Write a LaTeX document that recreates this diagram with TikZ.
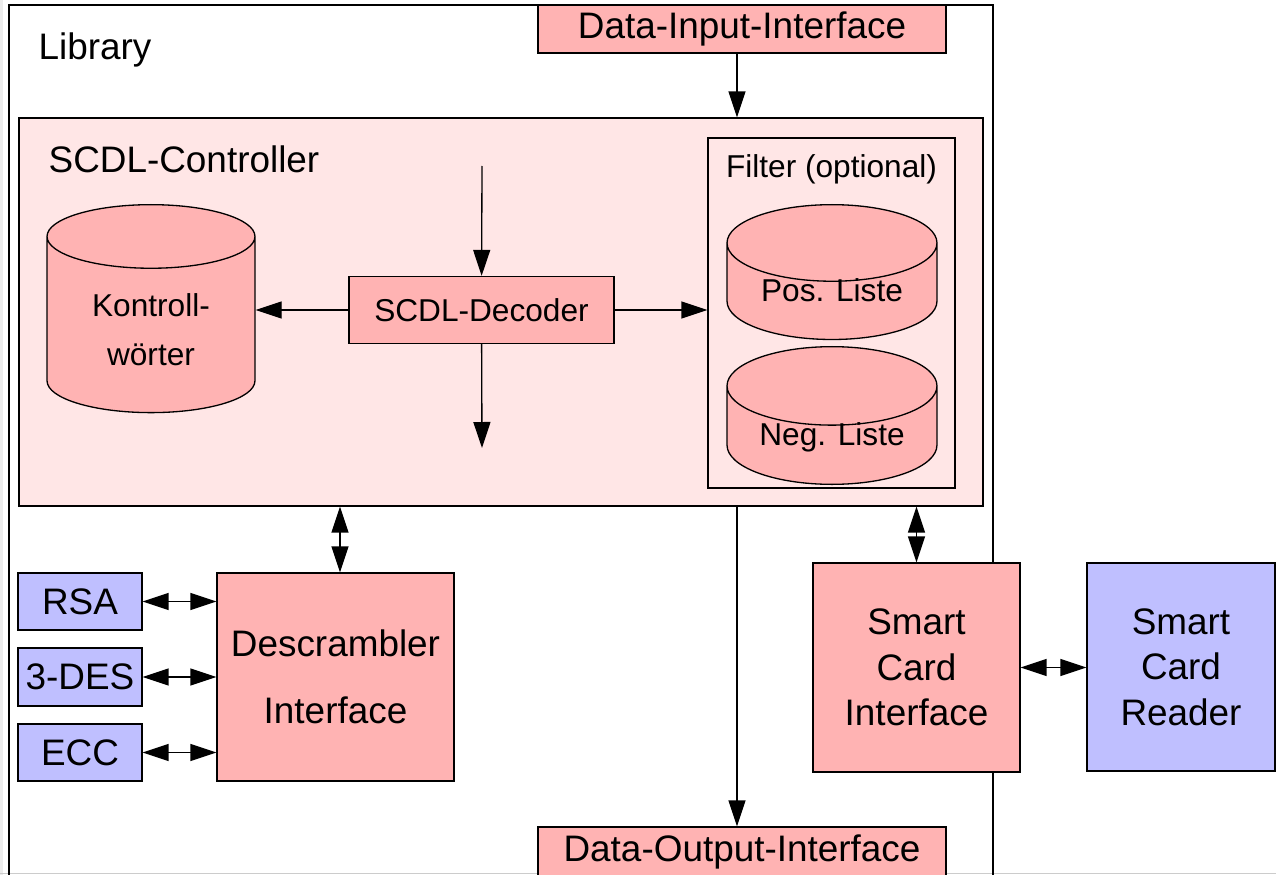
\documentclass[tikz,border=0pt]{standalone}
\usepackage{fontspec}
\setmainfont{Liberation Sans}
\usetikzlibrary{arrows.meta,positioning,shapes.geometric,calc}

\definecolor{boxpink}{HTML}{FFB3B3}
\definecolor{ctrlpink}{HTML}{FFE6E6}
\definecolor{boxblue}{HTML}{BFBFFF}

\begin{document}
\begin{tikzpicture}[x=0.02cm, y=-0.02cm, line width=0.75pt,
        >={Triangle[length=0.52cm,width=0.34cm]},
        big/.style={font=\fontsize{21}{26}\selectfont},
        small/.style={font=\fontsize{18}{27}\selectfont},
        label/.style={inner sep=0pt},
        block/.style={draw, fill=boxpink, inner sep=0pt, align=center},
        algo/.style={draw, fill=boxblue, inner sep=0pt, align=center},
        store/.style={draw, fill=boxpink, cylinder, shape border rotate=90,
            aspect=0.54, inner sep=0pt, align=center, small, anchor=north},
        list/.style={store, text height=11pt, text depth=-4pt, minimum width=4.2cm, minimum height=2cm},
        link/.style={<->}]
            \useasboundingbox (0,0) rectangle (1276,875);
            \fill[gray!15] (0,0) rectangle (3,875);
            \draw[gray!40] (0,873.5) -- (1276,873.5);

            % library frame, open at the bottom
            \draw (9,880) -- (9,5) -- (993,5) -- (993,880);
            \node[label, big, anchor=base west] (lib) at (38,60) {Library};

            \node[block, big, minimum width=8.16cm, minimum height=0.96cm] (dii) at (742,29) {Data-Input-Interface};

            % controller with decoder, control words and filter
            \node[draw, fill=ctrlpink, minimum width=19.28cm, minimum height=7.76cm] (ctrl) at (501,312) {};
            \node[label, big, anchor=base west] (ctrl_name) at (48,173) {SCDL-Controller};

            \node[store, minimum width=4.16cm, minimum height=4.16cm, font=\fontsize{18}{28}\selectfont] (kw) at (151,204) {\rule{0pt}{19pt}Kontroll-\\wörter};
            \node[block, small, minimum width=5.3cm, minimum height=1.34cm] (dec) at (481.5,310) {SCDL-Decoder};

            \node[draw, minimum width=4.94cm, minimum height=7cm] (filter) at (831.5,313) {};
            \node[label, small, anchor=base] (filter_name) at (831.5,178) {Filter (optional)};
            \node[list] (pos) at (832,204) {Pos. Liste};
            \node[list] (neg) at (832,346) {Neg. Liste};

            % descrambler and its algorithms
            \node[block, font=\fontsize{21}{38}\selectfont, minimum width=4.74cm, minimum height=4.16cm] (desc) at (335.5,677) {Descrambler\\Interface};
            \node[algo, big, minimum width=2.48cm, minimum height=1.14cm] (rsa) at (80,601.5) {RSA};
            \node[algo, big, minimum width=2.48cm, minimum height=1.16cm] (des) at (80,677) {3-DES};
            \node[algo, big, minimum width=2.48cm, minimum height=1.14cm] (ecc) at (80,752.5) {ECC};

            % smart card side
            \node[block, font=\fontsize{21}{25.8}\selectfont, minimum width=4.14cm, minimum height=4.18cm] (sci) at (916.5,667.5) {Smart\\Card\\Interface};
            \node[algo, font=\fontsize{21}{25.8}\selectfont, minimum width=3.76cm, minimum height=4.16cm] (scr) at (1181,667) {Smart\\Card\\Reader};

            \node[block, big, minimum width=8.16cm, minimum height=0.98cm] (doi) at (742,851.5) {Data-Output-Interface};

            \coordinate (io_x) at (737,0);
            \coordinate (desc_x) at (340,0);
            \coordinate (dec_in) at (482,166);
            \coordinate (dec_out) at (482,448);

            % Define the edges
            \draw[->] (dii.south -| io_x) -- (ctrl.north -| io_x);
            \draw[->] (dec_in) -- (dec);
            \draw[->] (dec) -- (dec_out);
            \draw[->] (dec.west) -- (dec.west -| kw.east);
            \draw[->] (dec.east) -- (dec.east -| filter.west);
            \draw[link] (ctrl.south -| desc_x) -- (desc.north -| desc_x);
            \foreach \algo in {rsa,des,ecc}
                \draw[link] (\algo.east) -- (\algo.east -| desc.west);
            \draw[link] (ctrl.south -| sci.north) -- (sci.north);
            \draw[link] (sci.east) -- (sci.east -| scr.west);
            \draw[->] (ctrl.south -| io_x) -- (doi.north -| io_x);
\end{tikzpicture}
\end{document}
